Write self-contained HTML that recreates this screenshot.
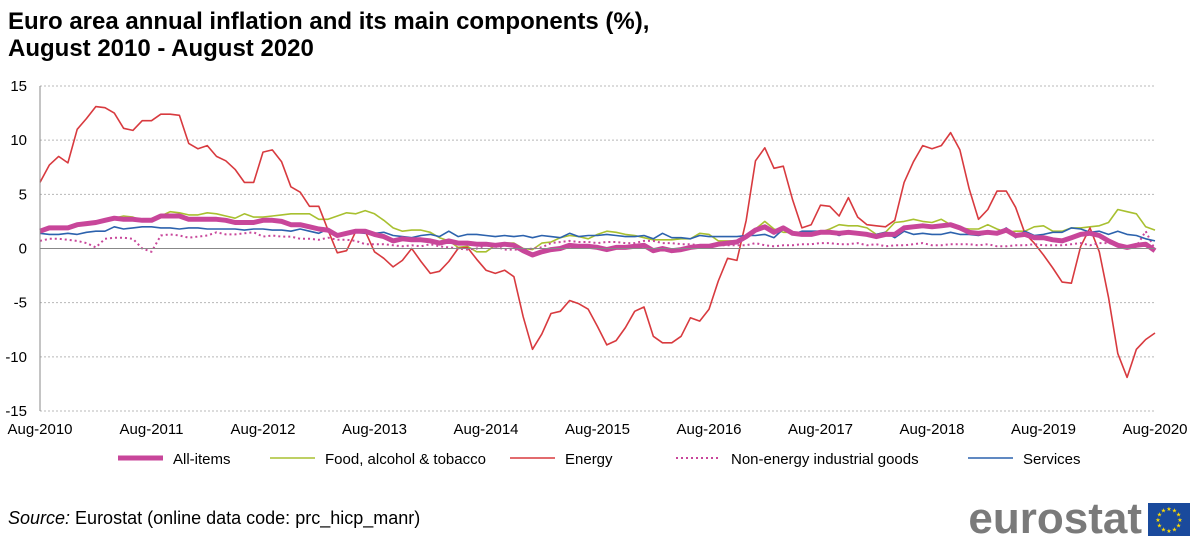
<!DOCTYPE html>
<html><head><meta charset="utf-8"><style>
body{margin:0;background:#fff;font-family:"Liberation Sans",Arial,sans-serif;}
#wrap{position:relative;width:1198px;height:543px;overflow:hidden;}
</style></head><body>
<div id="wrap">
<svg id="chart" width="1198" height="543" xmlns="http://www.w3.org/2000/svg">
<text x="8" y="29" font-size="24" font-weight="bold" fill="#000">Euro area annual inflation and its main components (%),</text>
<text x="8" y="56" font-size="24" font-weight="bold" fill="#000">August 2010 - August 2020</text>
<g id="grid"></g><g id="series"></g><g id="axes"></g>
<g id="legend"></g>
<text x="8" y="524" font-size="18"><tspan font-style="italic">Source:</tspan> Eurostat (online data code: prc_hicp_manr)</text>
<text x="1142" y="533" font-size="44" font-weight="bold" fill="#7a7a7a" text-anchor="end">eurostat</text>
<rect x="1148" y="503" width="42" height="33" fill="#1a4a9c"/>
<g id="stars"></g>
</svg>
</div>
<script>
const yTicks=[15,10,5,0,-5,-10,-15];
const xTickLabels=["Aug-2010","Aug-2011","Aug-2012","Aug-2013","Aug-2014","Aug-2015","Aug-2016","Aug-2017","Aug-2018","Aug-2019","Aug-2020"];
const seriesNames=["All-items","Food, alcohol & tobacco","Energy","Non-energy industrial goods","Services"];
const allItems=[1.6,1.9,1.9,1.9,2.2,2.3,2.4,2.6,2.8,2.7,2.7,2.6,2.6,3.0,3.0,3.0,2.7,2.7,2.7,2.7,2.6,2.4,2.4,2.4,2.6,2.6,2.5,2.2,2.2,2.0,1.8,1.7,1.2,1.4,1.6,1.6,1.3,1.1,0.7,0.9,0.8,0.8,0.7,0.5,0.7,0.5,0.5,0.4,0.4,0.3,0.4,0.3,-0.2,-0.6,-0.3,-0.1,0.0,0.3,0.2,0.2,0.1,-0.1,0.1,0.1,0.2,0.3,-0.2,0.0,-0.2,-0.1,0.1,0.2,0.2,0.4,0.5,0.6,1.1,1.7,2.0,1.5,1.9,1.4,1.3,1.3,1.5,1.5,1.4,1.5,1.4,1.3,1.1,1.3,1.3,1.9,2.0,2.1,2.0,2.1,2.2,1.9,1.5,1.4,1.5,1.4,1.7,1.2,1.3,1.0,1.0,0.8,0.7,1.0,1.3,1.4,1.2,0.7,0.3,0.1,0.3,0.4,-0.2];
const food=[1.6,1.8,1.9,1.9,2.1,2.3,2.4,2.7,2.8,3.0,2.9,2.6,2.7,3.0,3.4,3.3,3.1,3.1,3.3,3.2,3.0,2.8,3.2,2.9,2.9,3.0,3.1,3.2,3.2,3.2,2.7,2.7,3.0,3.3,3.2,3.5,3.2,2.6,1.9,1.6,1.7,1.7,1.5,1.0,0.7,0.1,0.2,-0.3,-0.3,0.3,0.5,0.5,0.0,-0.1,0.5,0.6,1.0,1.2,1.1,0.9,1.3,1.6,1.5,1.3,1.2,1.0,0.8,0.8,0.8,0.9,0.9,1.4,1.3,0.7,0.7,0.7,1.2,1.8,2.5,1.8,1.5,1.5,1.3,1.4,1.5,1.8,2.2,2.1,2.1,1.9,1.3,1.5,2.4,2.5,2.7,2.5,2.4,2.7,2.2,1.9,1.8,1.8,2.2,1.8,1.5,1.6,1.6,2.0,2.1,1.6,1.6,1.9,1.9,2.0,2.1,2.4,3.6,3.4,3.2,2.0,1.7];
const energy=[6.1,7.7,8.5,7.9,11.0,12.0,13.1,13.0,12.5,11.1,10.9,11.8,11.8,12.4,12.4,12.3,9.7,9.2,9.5,8.5,8.1,7.3,6.1,6.1,8.9,9.1,8.0,5.7,5.2,3.9,3.9,1.7,-0.4,-0.2,1.6,1.6,-0.3,-0.9,-1.7,-1.1,0.0,-1.2,-2.3,-2.1,-1.2,0.0,0.1,-1.0,-2.0,-2.3,-2.0,-2.6,-6.3,-9.3,-7.9,-6.0,-5.8,-4.8,-5.1,-5.6,-7.2,-8.9,-8.5,-7.3,-5.8,-5.4,-8.1,-8.7,-8.7,-8.1,-6.4,-6.7,-5.6,-3.0,-0.9,-1.1,2.6,8.1,9.3,7.4,7.6,4.5,1.9,2.2,4.0,3.9,3.0,4.7,2.9,2.2,2.1,2.0,2.6,6.1,8.0,9.5,9.2,9.5,10.7,9.1,5.5,2.7,3.6,5.3,5.3,3.8,1.4,0.5,-0.6,-1.8,-3.1,-3.2,0.2,1.9,-0.3,-4.5,-9.7,-11.9,-9.3,-8.4,-7.8];
const neig=[0.7,0.9,0.9,0.8,0.7,0.5,0.1,0.9,1.0,1.0,0.9,0.0,-0.3,1.2,1.3,1.2,1.0,1.1,1.2,1.5,1.3,1.3,1.4,1.5,1.1,1.2,1.1,1.1,0.9,0.9,0.8,1.0,0.8,0.8,0.7,0.4,0.4,0.4,0.3,0.2,0.3,0.2,0.4,0.2,0.1,0.0,-0.1,0.0,0.3,0.2,-0.1,-0.1,-0.1,0.0,0.1,0.5,0.6,0.7,0.6,0.6,0.5,0.6,0.6,0.5,0.5,0.7,0.7,0.5,0.5,0.4,0.4,0.3,0.3,0.3,0.3,0.3,0.3,0.5,0.3,0.2,0.3,0.3,0.4,0.4,0.5,0.5,0.4,0.4,0.5,0.3,0.4,0.2,0.3,0.3,0.4,0.5,0.3,0.3,0.4,0.4,0.4,0.3,0.4,0.2,0.2,0.3,0.3,0.4,0.3,0.3,0.3,0.4,0.5,0.3,0.5,0.5,0.3,0.2,0.2,1.6,-0.1];
const services=[1.4,1.3,1.3,1.4,1.3,1.5,1.6,1.6,2.0,1.8,1.9,2.0,2.0,1.9,1.9,1.8,1.9,1.9,1.8,1.8,1.8,1.8,1.7,1.8,1.8,1.7,1.7,1.6,1.8,1.6,1.4,1.8,1.1,1.5,1.5,1.4,1.4,1.5,1.2,1.1,1.0,1.2,1.3,1.1,1.6,1.1,1.3,1.3,1.2,1.1,1.2,1.1,1.2,1.0,1.2,1.1,1.0,1.4,1.1,1.2,1.2,1.3,1.2,1.1,1.1,1.2,0.9,1.4,1.0,1.0,0.9,1.2,1.1,1.1,1.1,1.1,1.2,1.2,1.3,1.0,1.8,1.3,1.6,1.6,1.6,1.5,1.2,1.5,1.3,1.2,1.3,1.5,1.0,1.6,1.3,1.4,1.3,1.3,1.5,1.3,1.3,1.2,1.4,1.4,1.9,1.0,1.6,1.2,1.3,1.5,1.5,1.9,1.8,1.5,1.6,1.3,1.6,1.3,1.2,0.9,0.7];

const NS="http://www.w3.org/2000/svg";
const X0=40,X1=1155,Y0=86,Y1=411;
const n=allItems.length;
const xs=i=>X0+(X1-X0)*i/(n-1);
const ys=v=>Y0+(15-v)*(Y1-Y0)/30;
function mk(tag,attrs,parent){const e=document.createElementNS(NS,tag);for(const k in attrs)e.setAttribute(k,attrs[k]);parent.appendChild(e);return e;}
const grid=document.getElementById('grid'),axes=document.getElementById('axes'),ser=document.getElementById('series'),leg=document.getElementById('legend');
yTicks.forEach(v=>{
  if(v!==0){const l=mk('line',{x1:X0,x2:X1,y1:ys(v),y2:ys(v),stroke:'#b8b8b8','stroke-width':1,'stroke-dasharray':'2,2'},grid);
  
  }
  const t=mk('text',{x:27,y:ys(v)+5,'font-size':15,'text-anchor':'end',fill:'#000'},axes);t.textContent=v;
  
  
});
const ax=mk('line',{x1:X0,x2:X1,y1:ys(0),y2:ys(0),stroke:'#888','stroke-width':1},axes);


const ya=mk('line',{x1:X0,x2:X0,y1:Y0,y2:Y1,stroke:'#888','stroke-width':1},axes);


xTickLabels.forEach((s,k)=>{
  const x=xs(k*12);
  const t=mk('text',{x:x,y:434,'font-size':15,'text-anchor':'middle',fill:'#000'},axes);t.textContent=s;
  
  
});
const styles=[
 {d:food,c:'#a8c030',w:1.6,da:'',nm:'series-food'},
 {d:energy,c:'#d83a3f',w:1.6,da:'',nm:'series-energy'},
 {d:neig,c:'#c8469a',w:2,da:'2,3',nm:'series-non-energy-goods'},
 {d:services,c:'#2c62ad',w:1.6,da:'',nm:'series-services'},
 {d:allItems,c:'#c8469a',w:5,da:'',nm:'series-all-items'}];
styles.forEach(s=>{
  const pts=s.d.map((v,i)=>xs(i).toFixed(1)+','+ys(v).toFixed(1)).join(' ');
  const p=mk('polyline',{points:pts,fill:'none',stroke:s.c,'stroke-width':s.w,'stroke-dasharray':s.da,'stroke-linejoin':'round'},ser);
  
  
});
const legItems=[
 {x:118,c:'#c8469a',w:5,da:'',t:seriesNames[0]},
 {x:270,c:'#a8c030',w:1.6,da:'',t:seriesNames[1]},
 {x:510,c:'#d83a3f',w:1.6,da:'',t:seriesNames[2]},
 {x:676,c:'#c8469a',w:2,da:'2,3',t:seriesNames[3]},
 {x:968,c:'#2c62ad',w:1.6,da:'',t:seriesNames[4]}];
legItems.forEach(it=>{
  const g=mk('g',{},leg);
  
  
  mk('line',{x1:it.x,x2:it.x+45,y1:458,y2:458,stroke:it.c,'stroke-width':it.w,'stroke-dasharray':it.da},g);
  const t=mk('text',{x:it.x+55,y:464,'font-size':15,fill:'#000'},g);t.textContent=it.t;
});
const st=document.getElementById('stars');
for(let k=0;k<12;k++){const a=k*Math.PI/6;
  const s=mk('text',{x:1169+11*Math.cos(a),y:522+11*Math.sin(a),'font-size':6,fill:'#ffdd00','text-anchor':'middle'},st);s.textContent='★';
  
  }
</script>
</body></html>
